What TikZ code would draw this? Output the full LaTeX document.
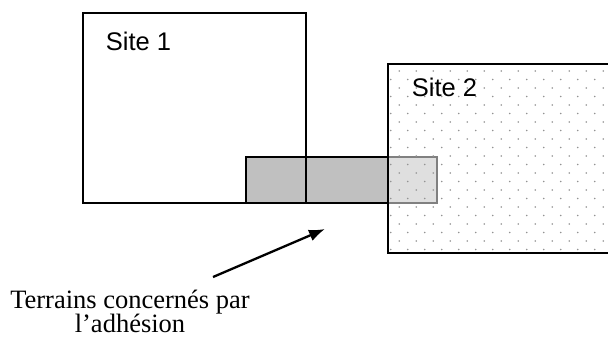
\documentclass[tikz,border=0pt]{standalone}
\usepackage{fontspec}
\setmainfont{Liberation Serif}
\newfontfamily\sitefont{Liberation Sans}
\usetikzlibrary{arrows.meta}

\begin{document}
\begin{tikzpicture}[x=1pt, y=-1pt, line width=1.8pt,
    sitelabel/.style={font=\sitefont\fontsize{25.5}{30}\selectfont, anchor=base west, inner sep=0pt},
    pointer/.style={line width=2.3pt, -{Latex[length=16pt,width=12pt]}}]
    \useasboundingbox (0,0) rectangle (608,338);

    % terrains concernes
    \draw[fill={rgb,255:red,192;green,192;blue,192}] (246,157) rectangle (437,203);

    % site 2 : fond pointille
    \fill[white, opacity=0.5] (388,64) rectangle (612,253);
    \begin{scope}
        \clip (388,64) rectangle (612,253);
        \foreach \j in {0,...,21}
            \foreach \i in {0,...,13}
                \fill[gray!85] ({382.3 + 17*\i + 8.5*mod(\j,2)}, {71 + 8.5*\j}) circle[radius=0.9pt];
    \end{scope}

    \draw (83,13) rectangle (306,203);
    \draw (388,64) rectangle (612,253);

    \node[sitelabel] (site1) at (105,50) {Site 1};
    \node[sitelabel] (site2) at (411,96.5) {Site 2};

    \coordinate (tail) at (213,277);
    \coordinate (tip) at (325,229);
    \draw[pointer] (tail) -- (tip);

    \node[align=center, anchor=north, inner sep=0pt, font=\fontsize{26.5}{24.5}\selectfont] (terrains) at (130,289) {Terrains concernés par\\l'adhésion};
\end{tikzpicture}
\end{document}
